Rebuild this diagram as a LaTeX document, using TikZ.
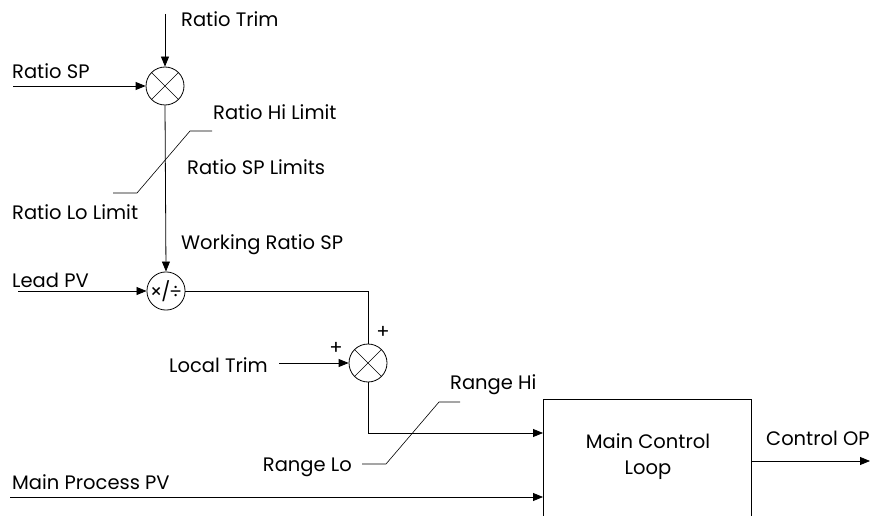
\documentclass[tikz,border=0pt]{standalone}
\usepackage{fontspec}
\setmainfont{Poppins}
\usetikzlibrary{arrows.meta}
\begin{document}
\begin{tikzpicture}[x=1pt,y=-1pt,
  every node/.style={font=\fontsize{19.5}{26}\selectfont},
  lbl/.style={inner sep=0pt, anchor=base west},
  lblr/.style={inner sep=0pt, anchor=base east},
  arr/.style={-{Triangle[length=10pt,width=8pt]}, line width=0.8pt},
  ln/.style={line width=0.8pt},
  xsum/.style={circle, draw, line width=0.8pt, minimum size=38pt, inner sep=0pt,
    path picture={\draw[line width=0.6pt] (path picture bounding box.south west) -- (path picture bounding box.north east)
      (path picture bounding box.north west) -- (path picture bounding box.south east);}},
  mdiv/.style={circle, draw, line width=0.8pt, minimum size=38pt, inner sep=0pt},
  blk/.style={draw, line width=0.8pt, minimum width=208pt, minimum height=170pt, anchor=north west, inner sep=0pt}
]
\clip (0,0) rectangle (873,516);
\useasboundingbox (0,0) rectangle (873,516);

% blocks
\node[xsum] (s1) at (165,86) {};
\node[mdiv] (s2) at (166,291) {\fontsize{19}{20}\selectfont ×\kern-1pt/\kern-1pt÷};
\node[xsum] (s3) at (368,363) {};
\node[blk] (box) at (543,399) {};
\node[align=center, inner sep=0pt] (boxtxt) at (648,457) {Main Control\\Loop};

% texts
\node[lbl] (tRT) at (181,27) {Ratio Trim};
\node[lbl] (tRSP) at (12,79) {Ratio SP};
\node[lbl] (tRHL) at (213,120) {Ratio Hi Limit};
\node[lbl] (tRSPL) at (187,175) {Ratio SP Limits};
\node[lbl] (tRLL) at (12,219) {Ratio Lo Limit};
\node[lbl] (tWRS) at (181,249) {Working Ratio SP};
\node[lbl] (tLPV) at (12,287) {Lead PV};
\node[lblr] (tLT) at (268,372) {Local Trim};
\node[inner sep=0pt] (p1) at (383,332) {+};
\node[inner sep=0pt] (p2) at (336,348) {+};
\node[lbl] (tRH) at (450,389) {Range Hi};
\node[lblr] (tRL) at (352,471) {Range Lo};
\node[lbl] (tMPV) at (12,489) {Main Process PV};
\node[lbl] (tCOP) at (766,445) {Control OP};

% coordinates
\coordinate (cRT) at (165,14);
\coordinate (cRSP) at (13,86);
\coordinate (cLPV) at (18,291);
\coordinate (cLT) at (279,363);
\coordinate (cJ) at (368,291);
\coordinate (cIn1) at (543,433);
\coordinate (cMPVs) at (10,497);
\coordinate (cIn2) at (543,497);
\coordinate (cOPs) at (751,461);
\coordinate (cOPe) at (870,461);
\coordinate (rh1) at (212,131);
\coordinate (rh2) at (190,131);
\coordinate (rl1) at (137,193);
\coordinate (rl2) at (113,193);
\coordinate (gh1) at (460,402);
\coordinate (gh2) at (439,402);
\coordinate (gl1) at (386,464);
\coordinate (gl2) at (362,464);

% connectors
\draw[arr] (cRT) -- (s1.north);
\draw[arr] (cRSP) -- (s1.west);
\draw[arr] (s1.south) -- (s2.north);
\draw[arr] (cLPV) -- (s2.west);
\draw[ln] (s2.east) -- (cJ) -- (s3.north);
\draw[arr] (cLT) -- (s3.west);
\draw[arr] (s3.south) |- (cIn1);
\draw[arr] (cMPVs) -- (cIn2);
\draw[arr] (cOPs) -- (cOPe);
\draw[line width=0.6pt] (rh1) -- (rh2) -- (rl1) -- (rl2);
\draw[line width=0.6pt] (gh1) -- (gh2) -- (gl1) -- (gl2);
\end{tikzpicture}
\end{document}
